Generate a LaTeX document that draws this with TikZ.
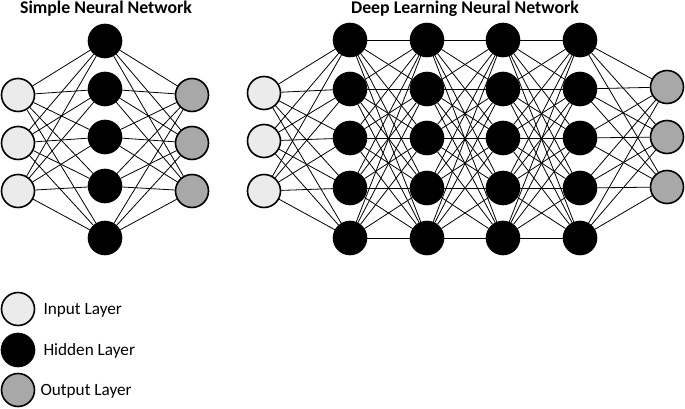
\documentclass[tikz,border=0pt]{standalone}
\usepackage{fontspec}
\setmainfont{Carlito}
\begin{document}
\begin{tikzpicture}[x=1pt,y=-1pt,
  neuron/.style={circle,draw=black,line width=1.6pt,minimum size=33pt,inner sep=0pt},
  inp/.style={neuron,fill=inputgray},
  hid/.style={neuron,fill=black},
  outp/.style={neuron,fill=outputgray},
  link/.style={draw=black,line width=0.8pt},
  title/.style={font=\bfseries\fontsize{17.8}{20}\selectfont,anchor=center},
  legtext/.style={font=\fontsize{17.2}{20}\selectfont,anchor=west}]
\definecolor{inputgray}{HTML}{EBEBEB}
\definecolor{outputgray}{HTML}{A8A8A8}
\useasboundingbox (0,0) rectangle (685,409);
% titles
\node[title] (t1) at (106,9) {Simple Neural Network};
\node[title] (t2) at (465,9) {Deep Learning Neural Network};
% simple network
\foreach \y [count=\i] in {95,143,191} \node[inp] (si\i) at (18,\y) {};
\foreach \y [count=\i] in {41,89,137,186,238} \node[hid] (sh\i) at (105,\y) {};
\foreach \y [count=\i] in {95,143,191} \node[outp] (so\i) at (192,\y) {};
\foreach \i in {1,2,3} \foreach \j in {1,...,5} \draw[link] (si\i) -- (sh\j);
\foreach \j in {1,...,5} \foreach \k in {1,2,3} \draw[link] (sh\j) -- (so\k);
% deep network
\foreach \y [count=\i] in {93,141,191} \node[inp] (di\i) at (264,\y) {};
\foreach \x [count=\c] in {350,427,503,580}
  \foreach \y [count=\i] in {40,89,138,188,238} \node[hid] (dh\c-\i) at (\x,\y) {};
\foreach \y [count=\i] in {87,137,187} \node[outp] (do\i) at (667,\y) {};
\foreach \i in {1,2,3} \foreach \j in {1,...,5} \draw[link] (di\i) -- (dh1-\j);
\foreach \c [evaluate=\c as \n using int(\c+1)] in {1,2,3}
  \foreach \i in {1,...,5} \foreach \j in {1,...,5} \draw[link] (dh\c-\i) -- (dh\n-\j);
\foreach \j in {1,...,5} \foreach \k in {1,2,3} \draw[link] (dh4-\j) -- (do\k);
% legend
\node[inp] (l1) at (18,309) {};
\node[hid] (l2) at (18,350) {};
\node[outp] (l3) at (18,390) {};
\node[legtext] (lt1) at (40,310) {Input Layer};
\node[legtext] (lt2) at (40,351) {Hidden Layer};
\node[legtext] (lt3) at (37,391) {Output Layer};
\end{tikzpicture}
\end{document}
